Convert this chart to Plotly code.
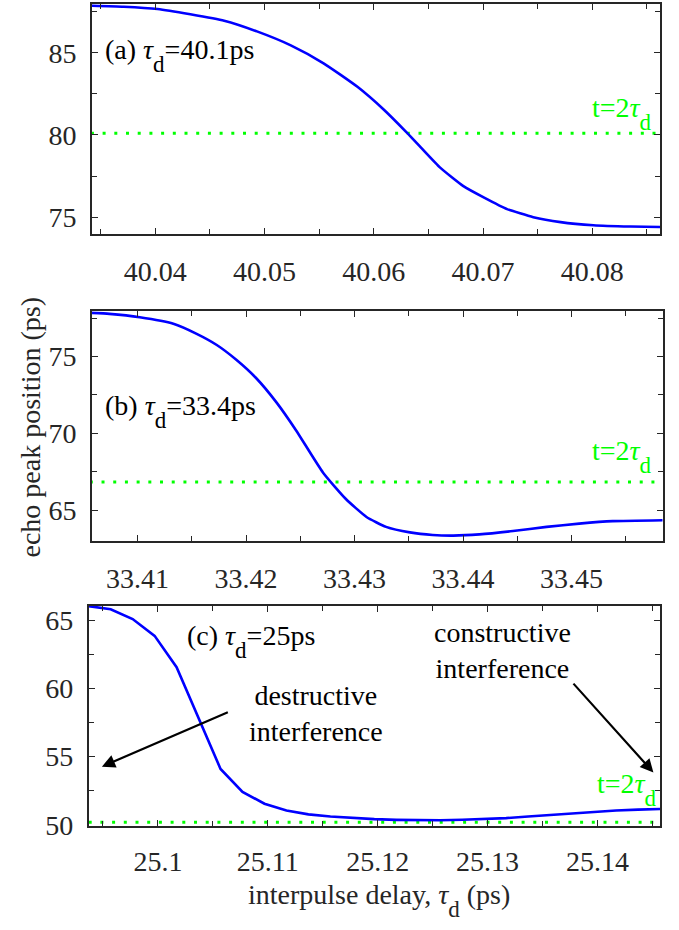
import plotly.graph_objects as go

# ---- data -------------------------------------------------------------
# (a) tau_d = 40.1 ps
delay_a = [40.0341, 40.0371, 40.0402, 40.0432, 40.0463, 40.0493, 40.0524, 40.0554,
           40.0585, 40.0609, 40.0630, 40.0643, 40.0661, 40.0682, 40.0701, 40.0722,
           40.0746, 40.0771, 40.0801, 40.0835, 40.0862]
peak_a = [87.86, 87.80, 87.66, 87.34, 86.95, 86.30, 85.45, 84.36,
          82.93, 81.55, 80.16, 79.25, 78.00, 76.89, 76.19, 75.49,
          75.00, 74.70, 74.51, 74.43, 74.40]

# (b) tau_d = 33.4 ps
delay_b = [33.4056, 33.4074, 33.4102, 33.4133, 33.4154, 33.4173, 33.4191, 33.4209,
           33.4228, 33.4246, 33.4271, 33.4292, 33.4311, 33.4329, 33.4351, 33.4372,
           33.4391, 33.4415, 33.4446, 33.4477, 33.4507, 33.4538, 33.4584]
peak_b = [77.84, 77.77, 77.55, 77.13, 76.49, 75.75, 74.79, 73.62,
          72.02, 70.21, 67.45, 65.74, 64.57, 63.93, 63.57, 63.40,
          63.36, 63.44, 63.66, 63.93, 64.14, 64.30, 64.36]

# (c) tau_d = 25 ps
delay_c = [25.0937, 25.0957, 25.0977, 25.0997, 25.1017, 25.1037, 25.1057, 25.1077,
           25.1097, 25.1117, 25.1137, 25.1157, 25.1177, 25.1197, 25.1217, 25.1237,
           25.1257, 25.1277, 25.1297, 25.1317, 25.1337, 25.1357, 25.1377, 25.1397,
           25.1417, 25.1437, 25.1457]
peak_c = [66.03, 65.80, 65.08, 63.85, 61.55, 57.80, 54.10, 52.42,
          51.55, 51.05, 50.77, 50.62, 50.50, 50.42, 50.37, 50.34,
          50.34, 50.38, 50.42, 50.50, 50.62, 50.74, 50.86, 50.97,
          51.06, 51.12, 51.16]

# echo position t = 2*tau_d for each panel
two_tau = [80.1, 66.85, 50.2]

xticks_a = [40.04, 40.05, 40.06, 40.07, 40.08]
xticks_b = [33.41, 33.42, 33.43, 33.44, 33.45]
xticks_c = [25.10, 25.11, 25.12, 25.13, 25.14]
xlabels_a = ["40.04", "40.05", "40.06", "40.07", "40.08"]
xlabels_b = ["33.41", "33.42", "33.43", "33.44", "33.45"]
xlabels_c = ["25.1", "25.11", "25.12", "25.13", "25.14"]
yticks_a = [75, 80, 85]
yticks_b = [65, 70, 75]
yticks_c = [50, 55, 60, 65]

# subscript "d": slightly smaller and dropped well below the baseline
SUB_D = '<span style="font-size:23px;baseline-shift:-13px">d</span>'
TAU_D = "<i>τ</i>" + SUB_D
panel_labels = ["(a) " + TAU_D + "=40.1ps",
                "(b) " + TAU_D + "=33.4ps",
                "(c) " + TAU_D + "=25ps"]

# ---- style ------------------------------------------------------------
W, H = 679, 930
FONT = "Liberation Serif"
AX = "#262626"
BLUE = "#0000FF"
GREEN = "#00FF00"


def px(x):
    return x / W


def py(y):
    return 1 - y / H


fig = go.Figure()

panels = [
    (delay_a, peak_a, "x", "y"),
    (delay_b, peak_b, "x2", "y2"),
    (delay_c, peak_c, "x3", "y3"),
]
for i, (xs, ys, xa, ya) in enumerate(panels):
    fig.add_trace(go.Scatter(
        x=[xs[0], xs[-1]], y=[two_tau[i], two_tau[i]], xaxis=xa, yaxis=ya,
        mode="lines", line=dict(color=GREEN, width=3, dash="3px,8.7px"),
        showlegend=False, hoverinfo="skip"))
    fig.add_trace(go.Scatter(
        x=xs, y=ys, xaxis=xa, yaxis=ya, mode="lines",
        line=dict(color=BLUE, width=2.6,
                  shape="linear" if i == 2 else "spline",
                  smoothing=0.5 if i < 2 else None),
        showlegend=False))


def xaxis(domain, rng, tv, tt, anchor, standoff=12):
    return dict(domain=domain, range=rng, anchor=anchor,
                tickmode="array", tickvals=tv, ticktext=tt,
                ticks="inside", ticklen=6, tickwidth=1.3, tickcolor=AX,
                minor=dict(ticks="inside", ticklen=5, tickwidth=1.3, tickcolor=AX,
                           dtick=0.005, tick0=tv[0]),
                showline=True, linecolor=AX, linewidth=1.6, mirror="allticks",
                showgrid=False, zeroline=False, ticklabelstandoff=standoff,
                tickfont=dict(family=FONT, size=28, color=AX))


def yaxis(domain, rng, tv, anchor):
    return dict(domain=domain, range=rng, anchor=anchor,
                tickmode="array", tickvals=tv, ticktext=[str(v) for v in tv],
                ticks="inside", ticklen=6, tickwidth=1.3, tickcolor=AX,
                minor=dict(ticks="inside", ticklen=5, tickwidth=1.3, tickcolor=AX,
                           dtick=2.5, tick0=tv[0]),
                showline=True, linecolor=AX, linewidth=1.6, mirror="allticks",
                showgrid=False, zeroline=False, ticklabelstandoff=8,
                tickfont=dict(family=FONT, size=28, color=AX))


fig.update_layout(
    width=W, height=H, margin=dict(l=0, r=0, t=0, b=0),
    paper_bgcolor="white", plot_bgcolor="white",
    font=dict(family=FONT, size=28, color=AX),
    xaxis=xaxis([px(92), px(660)], [40.0342, 40.0862], xticks_a, xlabels_a, "y"),
    yaxis=yaxis([py(237), py(3)], [73.98, 87.97], yticks_a, "x"),
    xaxis2=xaxis([px(92), px(662.7)], [33.4058, 33.4584], xticks_b, xlabels_b, "y2"),
    yaxis2=yaxis([py(549), py(315.7)], [63.04, 77.94], yticks_b, "x2"),
    xaxis3=xaxis([px(88.7), px(660)], [25.0937, 25.1457], xticks_c, xlabels_c, "y3",
                 standoff=10),
    yaxis3=yaxis([py(839.3), py(615.7)], [49.93, 66.03], yticks_c, "x3"),
)

txt = dict(family=FONT, size=28, color="black")
grn = dict(family=FONT, size=28, color=GREEN)
ann = []
# panel labels
for lab, (x0, y0) in zip(panel_labels, [(103, 55), (103, 418), (185, 652)]):
    ann.append(dict(text=lab, x=px(x0), y=py(y0), xref="paper", yref="paper",
                    xanchor="left", yanchor="middle", showarrow=False, font=txt))
# t = 2 tau_d labels
for (x0, y0) in [(654, 114), (654, 463), (659, 802)]:
    ann.append(dict(text="t=2" + TAU_D, x=px(x0), y=py(y0),
                    xref="paper", yref="paper", xanchor="right", yanchor="middle",
                    showarrow=False, font=grn))
# interference notes in panel (c)
ann.append(dict(text="destructive<br>interference", x=px(316), y=py(725),
                xref="paper", yref="paper", xanchor="center", yanchor="middle",
                align="center", showarrow=False, font=txt))
ann.append(dict(text="constructive<br>interference", x=px(502), y=py(661),
                xref="paper", yref="paper", xanchor="center", yanchor="middle",
                align="center", showarrow=False, font=txt))
# arrows
ann.append(dict(text="", x=25.0949, y=54.27, ax=25.1065, ay=58.30,
                xref="x3", yref="y3", axref="x3", ayref="y3",
                showarrow=True, arrowhead=2, arrowsize=1.2, arrowwidth=2.2,
                arrowcolor="black"))
ann.append(dict(text="", x=25.1451, y=53.84, ax=25.1377, ay=60.46,
                xref="x3", yref="y3", axref="x3", ayref="y3",
                showarrow=True, arrowhead=2, arrowsize=1.2, arrowwidth=2.2,
                arrowcolor="black"))
# axis titles
ann.append(dict(text="echo peak position (ps)", x=px(31), y=py(434),
                xref="paper", yref="paper", xanchor="center", yanchor="middle",
                textangle=-90, showarrow=False, font=dict(family=FONT, size=28, color=AX)))
ann.append(dict(text="interpulse delay, " + TAU_D + " (ps)", x=px(379), y=py(915),
                xref="paper", yref="paper", xanchor="center", yanchor="middle",
                showarrow=False, font=dict(family=FONT, size=28, color=AX)))
fig.update_layout(annotations=ann)

fig.write_html("out.html")
